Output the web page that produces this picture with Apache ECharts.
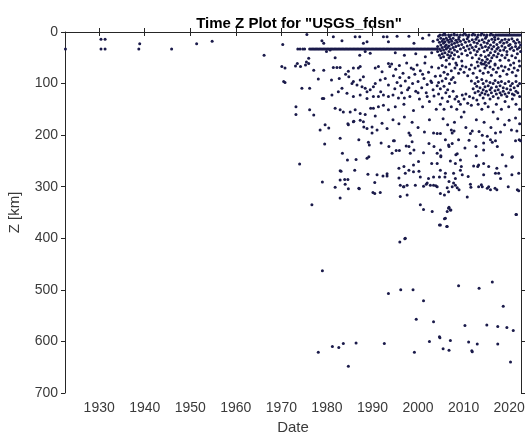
<!DOCTYPE html>
<html>
<head>
<meta charset="utf-8">
<script src="https://cdn.jsdelivr.net/npm/echarts@6/dist/echarts.min.js"></script>
<style>
html,body{margin:0;padding:0;background:#fff;}
#chart{width:525px;height:436px;}
</style>
</head>
<body>
<div id="chart"></div>
<script>
// ---- data: [year, depth km] ----
const xTickValues = [1930,1940,1950,1960,1970,1980,1990,2000,2010,2020];

const earlyEvents = [[1922.6,33],[1930.4,14],[1931.3,14],[1930.4,33],[1931.3,33],[1938.9,23],[1938.7,33],[1945.9,33],[1951.4,23],[1954.8,18],[1966.2,45]];

// events at fixed depth 33 km, forming a horizontal band
const fixed33Depth = 33;
const fixed33Years = [1973.6,1974.1,1974.7,1975.1,1976.2,1976.5,1976.8,1977.1,1977.4,1977.7,1978.0,1978.3,1978.6,1978.9,1979.2,1979.5,1979.8,1980.1,1980.4,1980.7,1981.0,1981.3,1981.6,1981.9,1982.2,1982.5,1982.8,1983.1,1983.4,1983.7,1984.0,1984.3,1984.6,1984.9,1985.2,1985.5,1985.8,1986.1,1986.4,1986.7,1987.0,1987.3,1987.6,1987.9,1988.2,1988.5,1988.8,1989.1,1989.4,1989.7,1990.0,1990.3,1990.6,1990.9,1991.2,1991.5,1991.8,1992.1,1992.4,1992.7,1993.0,1993.3,1993.6,1993.9,1994.2,1994.5,1994.8,1995.1,1995.4,1995.7,1996.0,1996.3,1996.6,1996.9,1997.2,1997.5,1997.8,1998.1,1998.4,1998.7,1999.0,1999.3,1999.6,1999.9,2000.2,2000.5,2000.8,2001.1,2001.4,2001.7,2002.0,2002.3,2002.6,2002.9,2003.2,2003.5,2003.8,2004.1];

// shallow events forming the band along the top
const fixedTopDepth = 6;
const fixedTopYears = [2004.8,2005.4,2006.0,2006.7,2007.3,2008.0,2008.6,2009.3,2009.9,2010.6,2011.2,2011.9,2012.5,2013.2,2013.8,2014.5,2015.1,2015.8,2016.4,2017.0,2017.3,2017.6,2017.9,2018.2,2018.5,2018.8,2019.1,2019.4,2019.7,2020.0,2020.3,2020.6,2020.9,2021.2,2021.5,2021.8,2022.1,2022.4];

const shallowOldEvents = [[1970.3,24],[1975.6,5],[1978.9,17],[1979.3,22],[1981.4,9],[1983.3,17],[1986.2,9],[1987.2,9],[1988.0,22],[1988.8,19],[1992.4,9],[1993.2,9],[1993.5,19],[1995.4,8],[1998.0,8],[1999.1,22],[2001.0,12],[2002.4,6],[2003.3,18],
[1976.0,51],[1979.9,38],[1980.7,35],[1981.8,50],[1987.2,45],[1988.4,38],[1989.5,41],[1995.0,40],[1997.0,45],[1999.5,42],[2001.6,48],[2003.0,40],
[1970.1,67],[1970.8,70],[1973.1,66],[1974.2,67],[1975.3,64],[1975.5,58],[1977.1,74],[1979.3,74],[1981.4,69],[1982.2,69],[1982.9,69],[1984.7,76],[1985.8,70],[1986.9,70],[1987.3,67],[1990.6,70],[1991.3,67],[1992.1,77],[1993.5,61],[1993.8,67],
[1970.8,98],[1978.1,91],[1981.0,93],[1982.7,90],[1984.1,82],[1984.8,87],[1985.5,100],[1985.8,96],[1987.3,93],[1988.0,87],[1986.6,103],[1987.7,106],[1988.4,109],[1988.8,116],[1989.5,112],[1990.2,106],[1990.6,100],[1991.7,93],[1992.8,90],[1993.5,103],
[1974.5,109],[1976.2,109],[1979.3,129],[1981.1,122],[1982.5,116],[1984.4,119],[1985.8,125],[1987.3,122],[1988.8,129],[1990.2,125],[1991.3,125],[1992.4,122],[1993.5,125],[1994.5,122],
[1973.2,145],[1973.2,160],[1976.2,151],[1977.1,161],[1981.8,148],[1982.9,151],[1983.6,155],[1985.1,155],[1986.2,151],[1987.3,158],[1988.4,160],[1990.2,148],[1991.3,145],[1992.4,142],[1993.5,151],
[1978.5,190],[1979.6,180],[1984.7,180],[1985.8,174],[1987.3,171],[1988.0,174],[1988.8,187],[1989.9,184],[1992.1,177],[1993.2,187],
[1970.5,96],[1973.5,61],[1976.0,61],[1979.0,129],[1983.3,109],[1984.6,178],[1985.9,173],[1988.1,184],[1990.6,163],[1989.6,148],[1991.8,116],[1980.4,186],[1989.9,196],[1991.0,190],[1987.0,209],[1991.9,215]];

const shallowRecentEvents = [[2004.3,15],[2004.3,28],[2004.3,38],[2004.7,20],[2004.7,33],[2004.7,45],[2005.0,12],[2005.0,25],[2005.0,36],[2005.0,50],[2005.3,18],[2005.3,30],[2005.3,42],[2005.6,14],[2005.6,22],[2005.6,35],[2005.6,48],[2005.9,19],[2005.9,28],[2005.9,40],[2006.2,12],[2006.2,25],[2006.2,33],[2006.2,55],[2006.5,16],[2006.5,30],[2006.5,44],[2006.8,20],[2006.8,27],[2006.8,38],[2006.8,50],[2007.1,14],[2007.1,33],[2007.1,46],[2007.4,18],[2007.4,24],[2007.4,40],[2007.7,12],[2007.7,30],[2007.7,52],[2008.0,22],[2008.0,35],[2008.0,44],[2008.3,16],[2008.3,28],[2008.3,60],[2008.6,20],[2008.6,38],[2008.9,14],[2008.9,26],[2008.9,48],[2009.3,18],[2009.3,33],[2009.6,24],[2009.6,42],[2009.6,56],[2010.0,15],[2010.0,30],[2010.4,20],[2010.4,36],[2010.8,13],[2010.8,27],[2010.8,45],[2011.2,18],[2011.2,33],[2011.5,25],[2011.5,40],[2011.9,15],[2011.9,30],[2011.9,50],[2012.3,20],[2012.3,35],[2012.7,14],[2012.7,28],[2012.7,44],[2013.0,22],[2013.0,38],[2013.0,58],[2013.4,17],[2013.4,33],[2013.4,52],[2013.8,25],[2013.8,45],[2013.8,60],[2014.1,15],[2014.1,30],[2014.1,55],[2014.5,20],[2014.5,38],[2014.5,62],[2014.8,12],[2014.8,28],[2014.8,48],[2014.8,58],[2015.2,22],[2015.2,35],[2015.2,53],[2015.5,17],[2015.5,30],[2015.5,45],[2015.5,60],[2015.9,25],[2015.9,40],[2015.9,56],[2016.2,14],[2016.2,33],[2016.2,50],[2016.6,20],[2016.6,28],[2016.6,45],[2016.9,15],[2016.9,38],[2016.9,62],[2017.3,24],[2017.3,33],[2017.3,48],[2017.6,13],[2017.6,30],[2017.6,42],[2018.0,20],[2018.0,36],[2018.0,55],[2018.4,16],[2018.4,27],[2018.4,45],[2018.8,22],[2018.8,35],[2019.1,14],[2019.1,30],[2019.1,50],[2019.5,20],[2019.5,38],[2019.5,44],[2019.9,15],[2019.9,26],[2019.9,55],[2020.2,24],[2020.2,33],[2020.6,13],[2020.6,30],[2020.6,46],[2021.0,18],[2021.0,36],[2021.0,60],[2021.4,22],[2021.4,28],[2021.4,50],[2021.8,15],[2021.8,33],[2021.8,42],[2022.2,20],[2022.2,30],[2022.2,56],[2022.5,25],[2022.5,38],
[2004.5,8],[2005.8,3],[2006.9,9],[2007.9,4],[2009.0,10],[2010.2,3],[2011.0,9],[2012.1,4],[2013.0,10],[2014.0,3],[2015.0,9],[2016.0,4],[2016.8,10]];

const midEvents = [[1994.2,62],[1994.6,85],[1994.9,110],[1995.1,72],[1995.4,98],[1995.7,128],[1995.9,65],[1996.2,104],[1996.4,118],[1996.7,80],[1996.9,140],[1997.2,95],[1997.5,60],[1997.7,112],[1998.0,88],[1998.2,125],[1998.5,70],[1998.8,100],[1999.0,152],[1999.3,82],[1999.5,115],[1999.8,64],[2000.0,96],[2000.3,130],[2000.5,75],[2000.8,108],[2001.0,145],[2001.3,90],[2001.5,60],[2001.8,118],[2002.0,102],[2002.3,78],[2002.5,135],[2002.8,95],[2003.0,68],[2003.3,112],[2003.5,124],[2003.8,86],[2004.0,150],[2004.2,104],
[1995.0,145],[1996.0,88],[1997.0,128],[1998.0,108],[1999.0,72],[2000.0,118],[2001.0,82],[2002.0,125],[2003.0,98],
[2004.5,70],[2004.5,98],[2004.5,120],[2004.9,85],[2004.9,110],[2004.9,140],[2005.3,65],[2005.3,95],[2005.3,128],[2005.7,78],[2005.7,105],[2005.7,150],[2006.1,68],[2006.1,90],[2006.1,118],[2006.5,82],[2006.5,112],[2006.5,135],[2006.9,62],[2006.9,100],[2006.9,125],[2007.3,75],[2007.3,92],[2007.3,145],[2007.7,88],[2007.7,115],[2008.1,70],[2008.1,98],[2008.1,130],[2008.5,64],[2008.5,125],[2008.5,150],[2008.9,80],[2008.9,135],[2009.3,72],[2009.3,140],[2009.7,66],[2009.7,122],[2010.1,78],[2010.1,130],[2010.1,155],[2010.5,68],[2010.5,120],[2010.9,85],[2010.9,138],[2011.3,72],[2011.3,125],[2011.7,64],[2011.7,95],[2011.7,142],[2012.1,80],[2012.1,110],[2012.1,128],[2012.5,70],[2012.5,100],[2012.5,118],[2012.9,88],[2012.9,105],[2012.9,132],[2013.2,66],[2013.2,96],[2013.2,115],[2013.2,140],[2013.6,75],[2013.6,108],[2013.6,122],[2014.0,62],[2014.0,92],[2014.0,118],[2014.0,150],[2014.3,80],[2014.3,100],[2014.3,112],[2014.3,128],[2014.7,70],[2014.7,106],[2014.7,120],[2014.7,138],[2015.0,65],[2015.0,95],[2015.0,115],[2015.4,78],[2015.4,104],[2015.4,122],[2015.4,145],[2015.8,68],[2015.8,98],[2015.8,112],[2015.8,130],[2016.1,84],[2016.1,108],[2016.1,118],[2016.5,72],[2016.5,100],[2016.5,125],[2016.5,155],[2016.9,64],[2016.9,94],[2016.9,114],[2017.2,78],[2017.2,106],[2017.2,120],[2017.2,140],[2017.6,70],[2017.6,98],[2017.6,112],[2017.6,128],[2018.0,86],[2018.0,104],[2018.0,118],[2018.3,66],[2018.3,96],[2018.3,122],[2018.3,150],[2018.7,75],[2018.7,108],[2018.7,115],[2019.1,68],[2019.1,100],[2019.1,120],[2019.1,135],[2019.5,82],[2019.5,110],[2019.5,125],[2019.9,72],[2019.9,96],[2019.9,118],[2019.9,145],[2020.3,64],[2020.3,104],[2020.3,112],[2020.7,78],[2020.7,100],[2020.7,120],[2020.7,130],[2021.1,70],[2021.1,108],[2021.1,122],[2021.5,85],[2021.5,96],[2021.5,115],[2021.5,140],[2021.9,74],[2021.9,104],[2021.9,118],[2022.3,66],[2022.3,100],[2022.3,125],[2022.3,150]];

const lowerMidEvents = [[1994.5,170],[1995.8,178],[1997.0,165],[1998.0,196],[1998.3,200],[1998.7,175],[2000.0,185],[2001.4,194],[2002.5,170],[2003.4,196],[2004.2,197],[2004.9,197],[2005.5,168],[2006.5,180],[2007.3,190],[2007.5,196],[2007.9,192],[2008.0,175],[2009.5,165],[2010.5,185],[2011.5,197],[2011.9,192],[2012.8,170],[2013.4,193],[2014.1,200],[2014.5,175],[2015.2,202],[2016.0,185],[2017.0,196],[2017.5,168],[2018.1,194],[2019.0,180],[2020.0,171],[2020.5,190],[2021.4,167],[2021.7,192],[2022.3,178]];

const midDeepOldEvents = [[1979.5,217],[1974.0,256],[1982.9,206],[1983.4,235],[1979.0,291],[1982.9,269],[1982.9,287],[1983.9,286],[1982.9,322],[1987.0,303],[1989.2,242],[1989.1,214],[1991.0,277],[1990.1,311],[1993.2,275],[1989.3,219],[1994.6,211],[1986.4,247],[1988.8,245],[1983.1,270],[1986.1,268],[1989.0,276],[1992.3,279],[1993.2,279],[1984.6,286],[1984.0,295],[1984.7,304],[1981.8,301],[1987.1,304],[1990.5,292],[1990.5,313],[1991.7,311],[1976.7,335],[1984.5,248],[1993.6,222],[1994.3,235]];

const midDeepRecentEvents = [[1994.8,211],[1998.7,213],[2006.0,209],[2007.5,216],[2006.7,219],[2008.9,209],[2014.4,215],[2015.9,209],[2017.0,211],[2021.4,211],[2022.5,211],[1995.2,230],[1995.9,230],[1997.4,221],[1998.3,235],[2001.2,234],[2004.9,229],[2004.2,235],[2005.0,240],[2008.6,236],[2014.4,229],[2020.6,243],[2000.1,251],[1999.0,258],[2003.0,255],[2004.2,255],[2004.9,268],[2007.1,250],[2008.2,255],[2009.3,248],[2009.5,261],[2012.2,260],[2013.3,258],[2014.4,255],[2015.5,261],[1995.8,264],[1996.9,261],[1997.2,274],[1999.0,271],[2000.5,281],[2002.3,284],[2003.4,281],[2004.7,281],[2006.0,274],[2007.8,274],[2008.2,284],[2007.8,293],[2009.3,268],[2009.7,277],[2017.3,264],[2017.7,274],[2018.1,284],[2020.6,277],[2022.1,274],[1996.1,297],[1996.8,300],[1997.6,297],[1999.4,297],[2001.2,299],[2002.0,293],[2002.7,297],[2003.4,297],[2004.2,300],[2004.9,313],[2006.7,310],[2007.5,300],[2008.2,297],[2009.0,306],[2011.5,295],[2013.3,300],[2014.1,300],[2015.2,303],[2015.9,306],[2015.5,300],[2017.3,306],[2022.1,308],[1996.1,319],[1997.6,316],[2000.5,335],[2001.2,344],[2003.1,348],[2006.4,348],[2006.7,342],[2007.1,345],[2006.0,361],[2004.9,374],[2006.4,377],[2021.5,354],[1997.2,400],[1996.0,407],[2013.1,261],[2014.4,277],[2013.9,296],[2016.9,303],[2017.0,274],[2020.7,242],[2021.8,306],[2022.2,209],[2011.6,301],[2008.6,302],[2006.4,302],[2005.8,316],[2005.9,281],[2006.8,290],[2016.3,214],[2017.4,222],[2018.5,238],[2011.2,210],[2012.7,222],[2002.4,216],[2003.5,222],[2005.0,242],[2006.8,222],[2008.3,238],[1998.0,222],[1999.1,229],[2000.2,270],[1998.0,268],[2001.8,295],[2003.9,298],[1995.8,283],[1996.9,300],[2010.3,225],[2019.3,260],[2012.8,240],[2011.0,280],[2019.8,300],[2010.8,320]];

const deepEvents = [[2006.8,340],[2007.2,345],[2006.3,377],[2004.7,374],[2005.8,362],[2021.6,354],[1997.1,401],[1979.0,463],[2016.3,485],[2008.9,492],[2013.4,497],[1993.5,507],[1996.2,500],[1998.9,500],[2001.2,521],[2022.7,515],[2018.7,532],[1999.6,557],[2003.4,562],[2010.3,569],[2015.1,568],[2017.5,571],[2019.5,573],[2020.9,579],[1978.1,621],[1981.2,610],[1982.6,612],[1983.6,604],[1986.4,603],[1992.6,604],[1984.7,648],[1999.2,621],[2002.5,600],[2004.7,591],[2004.8,593],[2005.5,614],[2006.8,617],[2007.1,598],[2011.1,601],[2011.8,618],[2011.9,620],[2013.0,605],[2017.5,605],[2020.3,640]];

// ---- assemble ----
const allEvents = []
  .concat(earlyEvents)
  .concat(fixed33Years.map(y => [y, fixed33Depth]))
  .concat(fixedTopYears.map(y => [y, fixedTopDepth]))
  .concat(shallowOldEvents, shallowRecentEvents, midEvents, lowerMidEvents, midDeepOldEvents, midDeepRecentEvents, deepEvents);

const axisColor = '#262626';
const labelColor = '#3a3a3a';
const fontFamily = 'Liberation Sans, Arial, Helvetica, sans-serif';

const chart = echarts.init(document.getElementById('chart'), null, {renderer: 'canvas'});
chart.setOption({
  animation: false,
  backgroundColor: '#ffffff',
  title: {
    text: 'Time Z Plot for "USGS_fdsn"',
    left: 294, top: 11, textAlign: 'center',
    textStyle: {fontSize: 15, fontWeight: 'bold', color: '#000', fontFamily: fontFamily}
  },
  grid: {left: 65, right: 4, top: 32, bottom: 43, containLabel: false, outerBoundsMode: 'none'},
  xAxis: [{
    type: 'value', position: 'bottom', min: 1922.5, max: 2022.6,
    name: 'Date', nameLocation: 'middle', nameGap: 27,
    nameTextStyle: {fontSize: 15, color: labelColor, fontFamily: fontFamily},
    axisLine: {show: true, lineStyle: {color: axisColor, width: 1}},
    axisTick: {show: true, inside: false, length: 4, customValues: xTickValues, lineStyle: {color: axisColor}},
    axisLabel: {show: true, customValues: xTickValues, formatter: v => String(v), fontSize: 14, color: labelColor, margin: 8, fontFamily: fontFamily},
    splitLine: {show: false}
  }, {
    type: 'value', position: 'top', min: 1922.5, max: 2022.6,
    axisLine: {show: true, lineStyle: {color: axisColor, width: 1}},
    axisTick: {show: true, inside: false, length: 4, customValues: xTickValues, lineStyle: {color: axisColor}},
    axisLabel: {show: false},
    splitLine: {show: false}
  }],
  yAxis: [{
    type: 'value', position: 'left', inverse: true, min: 0, max: 700, interval: 100,
    name: 'Z [km]', nameLocation: 'middle', nameGap: 43, nameRotate: 90,
    nameTextStyle: {fontSize: 15, color: labelColor, fontFamily: fontFamily},
    axisLine: {show: true, lineStyle: {color: axisColor, width: 1}},
    axisTick: {show: true, inside: false, length: 4, lineStyle: {color: axisColor}},
    axisLabel: {show: true, fontSize: 14, color: labelColor, margin: 7, fontFamily: fontFamily},
    splitLine: {show: false}
  }, {
    type: 'value', position: 'right', inverse: true, min: 0, max: 700, interval: 100,
    axisLine: {show: true, lineStyle: {color: axisColor, width: 1}},
    axisTick: {show: true, inside: false, length: 4, lineStyle: {color: axisColor}},
    axisLabel: {show: false},
    splitLine: {show: false}
  }],
  series: [{
    type: 'scatter',
    xAxisIndex: 0, yAxisIndex: 0,
    symbol: 'circle', symbolSize: 3,
    itemStyle: {color: '#1a1a4a', opacity: 1},
    clip: true,
    data: allEvents
  }]
});
</script>
</body>
</html>
